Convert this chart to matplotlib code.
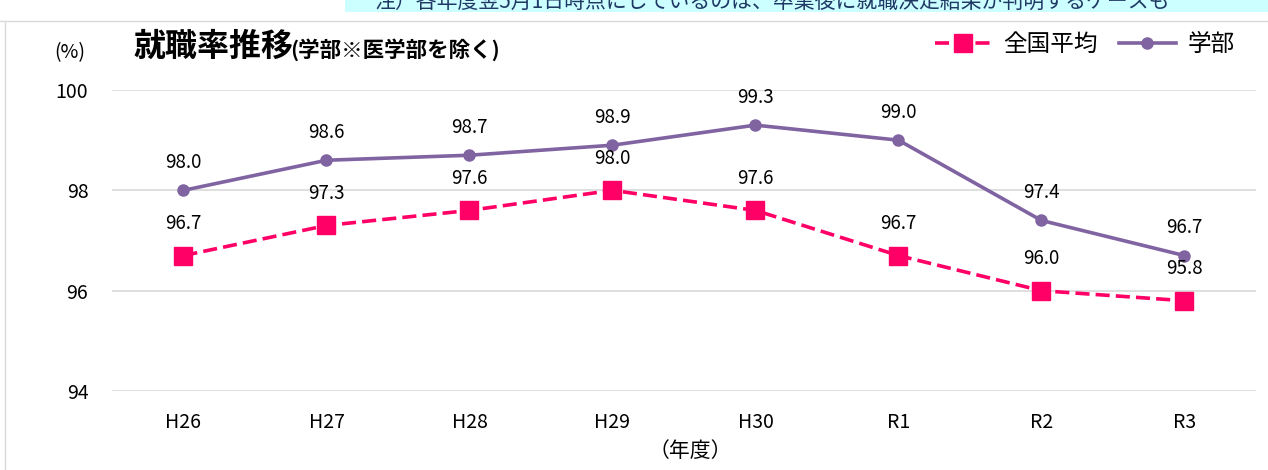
import matplotlib.pyplot as plt
import matplotlib.patches as patches

plt.rcParams['font.family'] = ['Noto Sans CJK JP', 'DejaVu Sans']

years = ["H26", "H27", "H28", "H29", "H30", "R1", "R2", "R3"]
national = [96.7, 97.3, 97.6, 98.0, 97.6, 96.7, 96.0, 95.8]
faculty = [98.0, 98.6, 98.7, 98.9, 99.3, 99.0, 97.4, 96.7]
yticks = [94, 96, 98, 100]

pink = "#FF0066"
purple = "#8064A2"

fig = plt.figure(figsize=(12.68, 4.70), dpi=100)
ax = fig.add_axes([0.0883, 0.168, 0.9022, 0.6405])

x = range(len(years))
ax.plot(x, national, color=pink, lw=2.6, ls=(0, (3.9, 1.7)), marker="s", ms=13,
        label="全国平均", zorder=3)
ax.plot(x, faculty, color=purple, lw=2.6, marker="o", ms=8,
        label="学部", zorder=3)

for i, v in enumerate(national):
    ax.annotate(f"{v:.1f}", (i, v), xytext=(0, 23), textcoords="offset points",
                ha="center", va="center", fontsize=13.5)
for i, v in enumerate(faculty):
    ax.annotate(f"{v:.1f}", (i, v), xytext=(0, 20), textcoords="offset points",
                ha="center", va="center", fontsize=13.5)

ax.set_xlim(-0.5, len(years) - 0.5)
ax.set_ylim(94, 100)
ax.set_yticks(yticks)
ax.set_xticks(list(x))
ax.set_xticklabels(years)
ax.tick_params(length=0, labelsize=14)
ax.tick_params(axis="x", pad=15)
ax.tick_params(axis="y", pad=17)
ax.grid(axis="y", color="#D9D9D9", lw=1.2)
ax.set_axisbelow(True)
for s in ax.spines.values():
    s.set_visible(False)

fig.text(0.0552, 0.889, "(%)", fontsize=14, ha="center", va="center")
fig.text(0.544, 0.040, "（年度）", fontsize=15, ha="center", va="center")
fig.text(0.105, 0.900, "就職率推移", fontsize=23, fontweight="bold",
         ha="left", va="center")
fig.text(0.229, 0.895, "(学部※医学部を除く)", fontsize=15.5, fontweight="bold",
         ha="left", va="center")

ax.legend(loc="upper right", bbox_to_anchor=(1.0, 1.26), ncol=2, frameon=False,
          fontsize=17, handlelength=2.4, columnspacing=0.9, handletextpad=0.5)

# cropped note box at top and panel borders
fig.patches.append(patches.Rectangle((0.272, 0.975), 0.73, 0.03, transform=fig.transFigure,
                                     facecolor="#CCFFFF", edgecolor="none", zorder=0))
fig.text(0.295, 0.995, "注）各年度翌5月1日時点にしているのは、卒業後に就職決定結果が判明するケースも",
         fontsize=15, ha="left", va="center", color="#1F3864")
fig.add_artist(plt.Line2D([0, 1], [0.955, 0.955], transform=fig.transFigure,
                          color="#D9D9D9", lw=1))
fig.add_artist(plt.Line2D([0.004, 0.004], [0, 0.955], transform=fig.transFigure,
                          color="#D9D9D9", lw=1))

fig.savefig("out.png", dpi=100)
